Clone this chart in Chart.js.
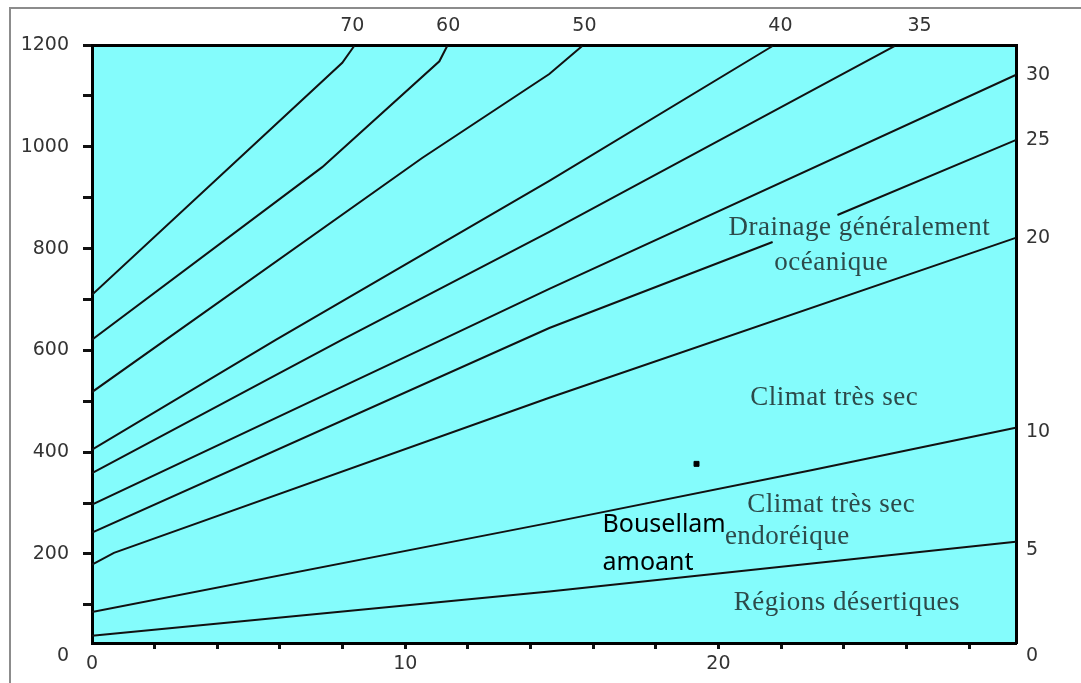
<!DOCTYPE html>
<html>
<head>
<meta charset="utf-8">
<script src="https://cdn.jsdelivr.net/npm/chart.js@4.4.1/dist/chart.umd.min.js"></script>
<style>
  html, body { margin: 0; padding: 0; background: #fff; }
  #wrap { position: relative; width: 1081px; height: 683px; overflow: hidden; }
  #frame { position: absolute; left: 9px; top: 7px; right: -10px; bottom: -10px; border: 2px solid #8c8c8c; }
  canvas { position: absolute; left: 0; top: 0; }
</style>
</head>
<body>
<div id="wrap">
  <div id="frame"></div>
  <canvas id="abaque" width="1081" height="683"></canvas>
</div>
<script>
// Abaque de De Martonne : T (°C) en abscisse, P (mm) en ordonnée
// chaque ligne = indice d'aridité, points [T, P]
const ligne70 = [[0, 709], [7.99, 1165], [8.37, 1198]];
const ligne60 = [[0, 621], [7.35, 960], [11.09, 1168], [11.34, 1198]];
const ligne50 = [[0, 518], [10.54, 978], [14.6, 1143], [15.65, 1198]];
const ligne40 = [[0, 405], [5.88, 621], [14.6, 933], [21.73, 1198]];
const ligne35 = [[0, 359], [7.99, 621], [14.6, 833], [25.62, 1198]];
const ligne30 = [[0, 297], [11.18, 621], [14.6, 721], [29.49, 1141]];
const ligne25 = [[0, 242], [14.6, 644], [21.73, 813], [22.8, null], [23.8, 866], [29.49, 1013]];
const ligne20 = [[0, 179], [0.7, 202], [14.6, 507], [29.49, 821]];
const ligne10 = [[0, 86], [14.6, 261], [23.0, 365], [29.49, 448]];
const ligne5 = [[0, 39], [14.6, 126], [29.49, 224]];

const station = [[19.3, 377]]; // Bousellam amont

// graduations
const xTicks = [0, 2, 4, 6, 8, 10, 12, 14, 16, 18, 20, 22, 24, 26, 28];
const yTicks = [0, 100, 200, 300, 400, 500, 600, 700, 800, 900, 1000, 1100, 1200];
const topTickValues = [8.31, 11.37, 15.72, 21.98, 26.42];
const topTickLabels = ['70', '60', '50', '40', '35'];
const rightTickValues = [1141, 1013, 821, 440, 208, 0];
const rightTickLabels = ['30', '25', '20', '10', '5', '0'];

const X_MAX = 29.5, Y_MIN = 25, Y_MAX = 1200;

function toPoints(arr) {
    return arr.map(p => ({ x: p[0], y: p[1] }));
}

const lignes = [ligne70, ligne60, ligne50, ligne40, ligne35, ligne30, ligne25, ligne20, ligne10, ligne5];
const datasets = lignes.map(l => ({
    data: toPoints(l),
    borderColor: '#111',
    borderWidth: 2,
    pointRadius: 0,
    fill: false,
    tension: 0,
    spanGaps: false
}));
datasets.push({
    type: 'scatter',
    data: toPoints(station),
    backgroundColor: '#000',
    borderColor: '#000',
    pointStyle: 'rect',
    pointRadius: 3.5
});

// textes posés dans le graphique (coordonnées en unités T / P)
const serif = '27px "Liberation Serif"';
const textes = [
    { t: 'Drainage généralement', x: 24.5, y: 841, font: serif, color: '#2d4a4a', align: 'center' },
    { t: 'océanique', x: 23.6, y: 772, font: serif, color: '#2d4a4a', align: 'center' },
    { t: 'Climat très sec', x: 23.7, y: 507, font: serif, color: '#2d4a4a', align: 'center' },
    { t: 'Climat très sec', x: 23.6, y: 297, font: serif, color: '#2d4a4a', align: 'center' },
    { t: 'endoréique', x: 22.2, y: 234, font: serif, color: '#2d4a4a', align: 'center' },
    { t: 'Régions désertiques', x: 24.1, y: 104, font: serif, color: '#2d4a4a', align: 'center' },
    { t: 'Bousellam', x: 16.3, y: 257, font: '25px "Noto Sans"', color: '#000', align: 'left' },
    { t: 'amoant', x: 16.3, y: 183, font: '25px "Noto Sans"', color: '#000', align: 'left' }
];

const fondPlugin = {
    id: 'fond',
    beforeDraw(chart) {
        const a = chart.chartArea, c = chart.ctx;
        c.save();
        c.fillStyle = '#84fcfc';
        c.fillRect(a.left, a.top, a.right - a.left, a.bottom - a.top);
        c.restore();
    }
};

const textePlugin = {
    id: 'textes',
    afterDatasetsDraw(chart) {
        const c = chart.ctx, sx = chart.scales.x, sy = chart.scales.y;
        c.save();
        textes.forEach(o => {
            c.font = o.font;
            c.fillStyle = o.color;
            c.textAlign = o.align;
            c.textBaseline = 'middle';
            c.letterSpacing = o.align === 'center' ? '0.5px' : '0px';
            c.fillText(o.t, sx.getPixelForValue(o.x), sy.getPixelForValue(o.y));
        });
        c.restore();
    }
};

const tickFont = { family: 'DejaVu Sans', size: 19 };
const tickColor = '#333';

new Chart(document.getElementById('abaque').getContext('2d'), {
    type: 'line',
    data: { datasets: datasets },
    options: {
        responsive: false,
        animation: false,
        devicePixelRatio: 1,
        layout: { padding: 0 },
        plugins: { legend: { display: false }, tooltip: { enabled: false } },
        scales: {
            x: {
                type: 'linear', position: 'bottom', min: 0, max: X_MAX,
                afterBuildTicks: s => { s.ticks = xTicks.map(v => ({ value: v })); },
                afterFit: s => { s.height = 40; },
                grid: { drawOnChartArea: false, drawTicks: true, tickLength: 6, tickWidth: 3,
                        tickColor: ctx => (ctx.tick && ctx.tick.value === 0) ? 'rgba(0,0,0,0)' : '#111' },
                border: { display: true, color: '#000', width: 3 },
                ticks: { autoSkip: false, maxRotation: 0, padding: 4, font: tickFont, color: tickColor,
                         callback: v => (v % 10 === 0 ? String(v) : '') }
            },
            x2: {
                type: 'linear', position: 'top', min: 0, max: X_MAX,
                afterBuildTicks: s => { s.ticks = topTickValues.map(v => ({ value: v })); },
                afterFit: s => { s.height = 45; },
                grid: { drawOnChartArea: false, drawTicks: false },
                border: { display: true, color: '#000', width: 3 },
                ticks: { autoSkip: false, maxRotation: 0, padding: 8, font: tickFont, color: tickColor,
                         callback: (v, i) => topTickLabels[i] }
            },
            y: {
                type: 'linear', position: 'left', min: Y_MIN, max: Y_MAX,
                afterBuildTicks: s => { s.ticks = yTicks.map(v => ({ value: v })); },
                afterFit: s => { s.width = 92; },
                grid: { drawOnChartArea: false, drawTicks: true, tickLength: 9, tickWidth: 3,
                        tickColor: ctx => (ctx.tick && ctx.tick.value === 0) ? 'rgba(0,0,0,0)' : '#111' },
                border: { display: true, color: '#000', width: 3 },
                ticks: { autoSkip: false, padding: 14, font: tickFont, color: tickColor,
                         callback: v => (v % 200 === 0 ? String(v) : '') }
            },
            y2: {
                type: 'linear', position: 'right', min: Y_MIN, max: Y_MAX,
                afterBuildTicks: s => { s.ticks = rightTickValues.map(v => ({ value: v })); },
                afterFit: s => { s.width = 65; },
                grid: { drawOnChartArea: false, drawTicks: false },
                border: { display: true, color: '#000', width: 3 },
                ticks: { autoSkip: false, padding: 10, font: tickFont, color: tickColor,
                         callback: (v, i) => rightTickLabels[i] }
            }
        }
    },
    plugins: [fondPlugin, textePlugin]
});
</script>
</body>
</html>
